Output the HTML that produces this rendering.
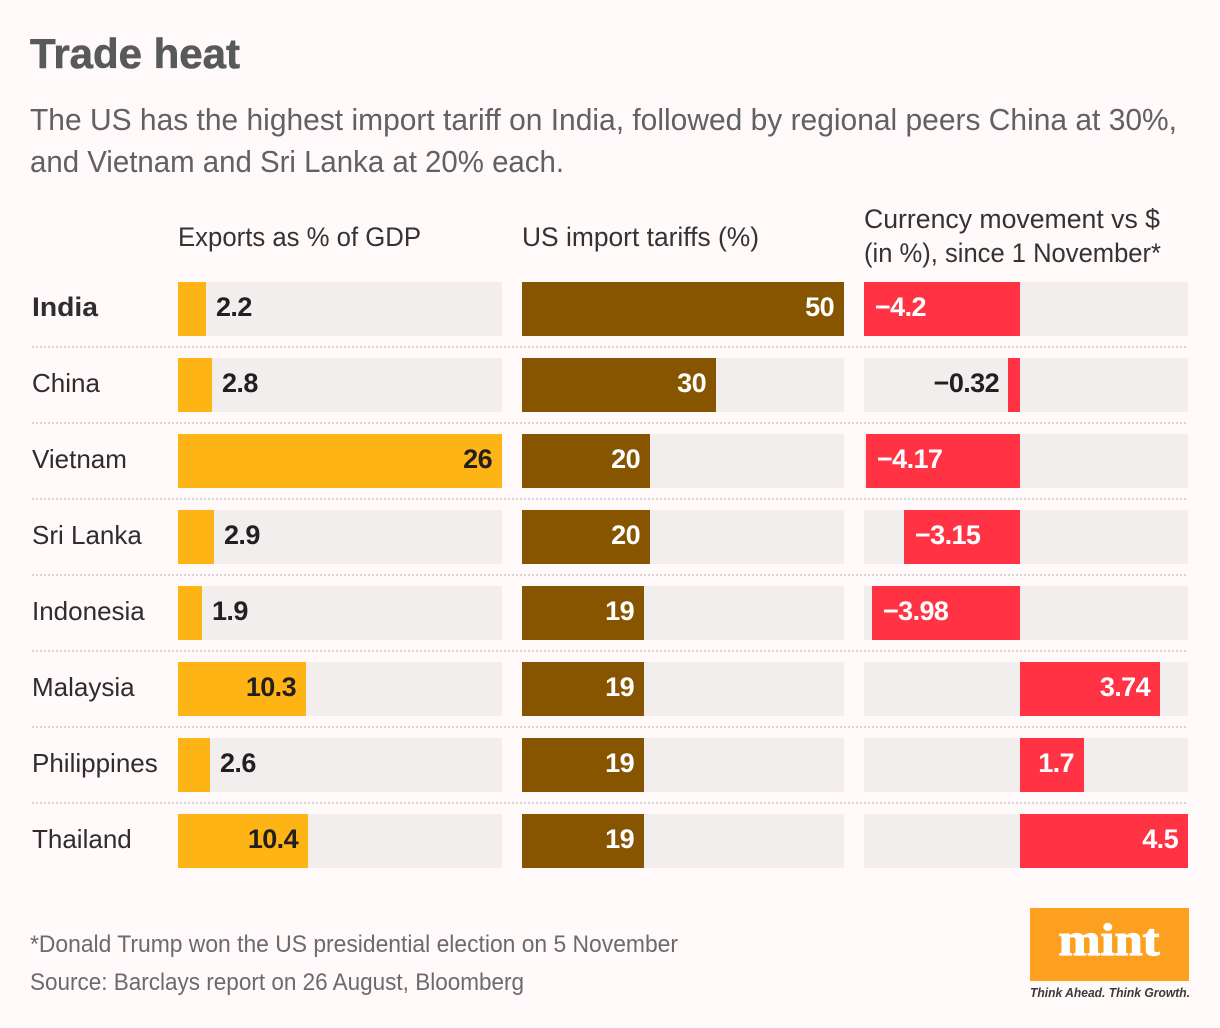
<!DOCTYPE html>
<html lang="en">
<head>
<meta charset="utf-8">
<title>Trade heat</title>
<style>
html,body{margin:0;padding:0;background:#fff9f9;}
svg{display:block;font-family:"Liberation Sans",sans-serif;}
.hdr{font-size:27px;fill:#333;}
.cty{font-size:26px;fill:#2e2c2d;}
.val{font-size:27px;font-weight:700;letter-spacing:-0.6px;}
.sub{font-size:31px;fill:#606163;}
.foot{font-size:24px;fill:#6a6b6d;}
</style>
</head>
<body>
<svg id="chart" width="1220" height="1028" viewBox="0 0 1220 1028" xmlns="http://www.w3.org/2000/svg">
<rect x="0" y="0" width="1220" height="1028" fill="#fff9f9"/>
<text x="30" y="68" font-size="42" font-weight="700" fill="#58595b" stroke="#58595b" stroke-width="0.6" textLength="210" lengthAdjust="spacingAndGlyphs">Trade heat</text>
<text class="sub" x="30" y="130" textLength="1147" lengthAdjust="spacingAndGlyphs">The US has the highest import tariff on India, followed by regional peers China at 30%,</text>
<text class="sub" x="30" y="172" textLength="534" lengthAdjust="spacingAndGlyphs">and Vietnam and Sri Lanka at 20% each.</text>
<text class="hdr" x="178" y="246" textLength="243" lengthAdjust="spacingAndGlyphs">Exports as % of GDP</text>
<text class="hdr" x="522" y="246" textLength="237" lengthAdjust="spacingAndGlyphs">US import tariffs (%)</text>
<text class="hdr" x="864" y="228" textLength="296" lengthAdjust="spacingAndGlyphs">Currency movement vs $</text>
<text class="hdr" x="864" y="262" textLength="297" lengthAdjust="spacingAndGlyphs">(in %), since 1 November*</text>
<g id="rows"></g>
<text class="foot" x="30" y="952" textLength="648" lengthAdjust="spacingAndGlyphs">*Donald Trump won the US presidential election on 5 November</text>
<text class="foot" x="30" y="990" textLength="494" lengthAdjust="spacingAndGlyphs">Source: Barclays report on 26 August, Bloomberg</text>
<g>
<rect x="1030" y="908" width="159" height="73" fill="#fd9f1f"/>
<text x="1109" y="955" text-anchor="middle" font-family="'Liberation Serif',serif" font-size="45" font-weight="700" fill="#ffffff" stroke="#ffffff" stroke-width="1.2" textLength="101" lengthAdjust="spacingAndGlyphs">mint</text>
<text x="1030" y="997" font-size="13" font-style="italic" font-weight="700" fill="#3a3a3a" textLength="160" lengthAdjust="spacingAndGlyphs">Think Ahead. Think Growth.</text>
</g>
</svg>
<script>
const countries = ["India", "China", "Vietnam", "Sri Lanka", "Indonesia", "Malaysia", "Philippines", "Thailand"];
const exportsGdp = [2.2, 2.8, 26, 2.9, 1.9, 10.3, 2.6, 10.4];
const exportLabels = ["2.2", "2.8", "26", "2.9", "1.9", "10.3", "2.6", "10.4"];
const tariffs = [50, 30, 20, 20, 19, 19, 19, 19];
const tariffLabels = ["50", "30", "20", "20", "19", "19", "19", "19"];
const currencyMove = [-4.2, -0.32, -4.17, -3.15, -3.98, 3.74, 1.7, 4.5];
const currencyLabels = ["\u22124.2", "\u22120.32", "\u22124.17", "\u22123.15", "\u22123.98", "3.74", "1.7", "4.5"];

const NS = "http://www.w3.org/2000/svg";
const rowsGroup = document.getElementById("rows");
const ROW_TOP = 282, ROW_STEP = 76, BAR_H = 54;
const EXP = {x0: 178, x1: 502, max: 26};
const TAR = {x0: 522, x1: 844, max: 50};
const CUR = {x0: 864, x1: 1188, zero: 1020, negMax: 4.2, posMax: 4.5};
const INSIDE_MIN = 64;

function snap(v) { return Math.round(v / 2) * 2; }
function expW(v) { return snap(v / EXP.max * (EXP.x1 - EXP.x0)); }
function tarW(v) { return snap(v / TAR.max * (TAR.x1 - TAR.x0)); }
function curX(v) {
  if (v >= 0) return CUR.zero + snap(v / CUR.posMax * (CUR.x1 - CUR.zero));
  return CUR.zero + snap(v / CUR.negMax * (CUR.zero - CUR.x0));
}
function rowY(i) { return ROW_TOP + i * ROW_STEP; }

function rect(parent, x, y, w, h, fill) {
  const r = document.createElementNS(NS, "rect");
  r.setAttribute("x", x);
  r.setAttribute("y", y);
  r.setAttribute("width", w);
  r.setAttribute("height", h);
  r.setAttribute("fill", fill);
  parent.appendChild(r);
  return r;
}
function label(parent, str, x, y, anchor, fill, cls) {
  const t = document.createElementNS(NS, "text");
  t.setAttribute("x", x);
  t.setAttribute("y", y);
  t.setAttribute("text-anchor", anchor);
  t.setAttribute("fill", fill);
  t.setAttribute("class", cls);
  t.textContent = str;
  parent.appendChild(t);
  return t;
}

countries.forEach(function (name, i) {
  const y = rowY(i);
  const base = y + 34;
  const slug = name.toLowerCase().replace(/\s+/g, "-");

  const row = document.createElementNS(NS, "g");
  
  
  rowsGroup.appendChild(row);

  const cty = label(row, name, 32, base, "start", i === 0 ? "#231f20" : "#2e2c2d", "cty");
  
  
  if (i === 0) { cty.style.fontSize = "27px"; cty.style.fontWeight = "700"; cty.setAttribute("textLength", "66"); cty.setAttribute("lengthAdjust", "spacingAndGlyphs"); }

  const t1 = rect(row, EXP.x0, y, EXP.x1 - EXP.x0, BAR_H, "#f3eeee");
  
  
  const w1 = expW(exportsGdp[i]);
  const b1 = rect(row, EXP.x0, y, w1, BAR_H, "#feb415");
  
  
  const in1 = w1 >= INSIDE_MIN;
  const v1 = label(row, exportLabels[i], in1 ? EXP.x0 + w1 - 10 : EXP.x0 + w1 + 10, base, in1 ? "end" : "start", "#231f20", "val");
  
  

  const t2 = rect(row, TAR.x0, y, TAR.x1 - TAR.x0, BAR_H, "#f3eeee");
  
  
  const w2 = tarW(tariffs[i]);
  const b2 = rect(row, TAR.x0, y, w2, BAR_H, "#875400");
  
  
  const v2 = label(row, tariffLabels[i], TAR.x0 + w2 - 10, base, "end", "#ffffff", "val");
  
  

  const t3 = rect(row, CUR.x0, y, CUR.x1 - CUR.x0, BAR_H, "#f3eeee");
  
  
  const cv = currencyMove[i];
  const cx = curX(cv);
  const left = Math.min(cx, CUR.zero);
  const w3 = Math.abs(cx - CUR.zero);
  const b3 = rect(row, left, y, w3, BAR_H, "#ff3344");
  
  
  let v3;
  if (cv >= 0) {
    v3 = label(row, currencyLabels[i], cx - 10, base, "end", "#ffffff", "val");
  } else if (w3 >= INSIDE_MIN) {
    v3 = label(row, currencyLabels[i], cx + 11, base, "start", "#ffffff", "val");
  } else {
    v3 = label(row, currencyLabels[i], cx - 9, base, "end", "#231f20", "val");
  }
  
  

  if (i < countries.length - 1) {
    const d = document.createElementNS(NS, "line");
    d.setAttribute("x1", 32);
    d.setAttribute("x2", 1188);
    d.setAttribute("y1", y + 65);
    d.setAttribute("y2", y + 65);
    d.setAttribute("stroke", "#d9d5d5");
    d.setAttribute("stroke-width", 2);
    d.setAttribute("stroke-dasharray", "2 2");
    
    
    row.appendChild(d);
  }
});
</script>
</body>
</html>
